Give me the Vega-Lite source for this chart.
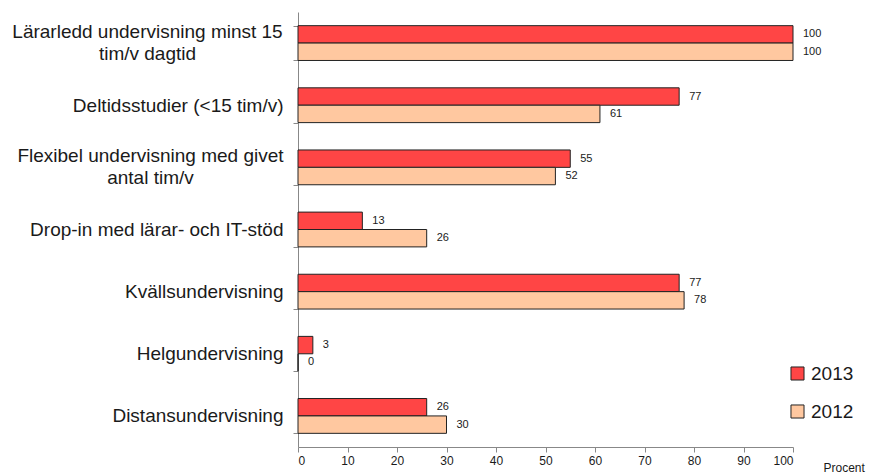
{
  "$schema": "https://vega.github.io/schema/vega-lite/v6.json",
  "autosize": "none",
  "width": 495,
  "height": 435,
  "padding": {"left": 298, "top": 12, "right": 80, "bottom": 28},
  "background": "white",
  "config": {"font": "Liberation Sans", "view": {"stroke": null}},
  "data": {"values": [
    {"cat": "Lärarledd undervisning minst 15|tim/v dagtid", "year": "2013", "value": 100},
    {"cat": "Lärarledd undervisning minst 15|tim/v dagtid", "year": "2012", "value": 100},
    {"cat": "Deltidsstudier (<15 tim/v)", "year": "2013", "value": 77},
    {"cat": "Deltidsstudier (<15 tim/v)", "year": "2012", "value": 61},
    {"cat": "Flexibel undervisning med givet|antal tim/v", "year": "2013", "value": 55},
    {"cat": "Flexibel undervisning med givet|antal tim/v", "year": "2012", "value": 52},
    {"cat": "Drop-in med lärar- och IT-stöd", "year": "2013", "value": 13},
    {"cat": "Drop-in med lärar- och IT-stöd", "year": "2012", "value": 26},
    {"cat": "Kvällsundervisning", "year": "2013", "value": 77},
    {"cat": "Kvällsundervisning", "year": "2012", "value": 78},
    {"cat": "Helgundervisning", "year": "2013", "value": 3},
    {"cat": "Helgundervisning", "year": "2012", "value": 0},
    {"cat": "Distansundervisning", "year": "2013", "value": 26},
    {"cat": "Distansundervisning", "year": "2012", "value": 30}
  ]},
  "encoding": {
    "y": {
      "field": "cat", "type": "nominal", "sort": null,
      "scale": {"paddingInner": 0.44, "paddingOuter": 0.22},
      "axis": {
        "title": null,
        "labelExpr": "indexof(datum.label, '|') >= 0 ? '' : datum.label",
        "labelFontSize": 19, "labelColor": "#1a1a1a",
        "labelPadding": 10, "tickBand": "extent", "tickSize": 5,
        "domainColor": "#888888", "tickColor": "#888888", "labelLimit": 300
      }
    },
    "x": {
      "field": "value", "type": "quantitative",
      "scale": {"domain": [0, 100], "nice": false},
      "axis": {
        "title": "Procent", "titleFontSize": 12, "titleFontWeight": "normal", "titleColor": "#1a1a1a",
        "titleAnchor": "start", "titleAlign": "left", "titleBaseline": "alphabetic", "titleX": 525, "titleY": 24,
        "values": [0,10,20,30,40,50,60,70,80,90,100], "labelOverlap": false,
        "labelFontSize": 12, "labelColor": "#1a1a1a", "grid": false,
        "domainColor": "#888888", "tickColor": "#888888", "tickSize": 5, "labelPadding": 3
      }
    }
  },
  "layer": [
    {
      "mark": {"type": "bar", "stroke": "#222222", "strokeWidth": 1},
      "encoding": {
        "yOffset": {"field": "year", "type": "nominal", "sort": ["2013", "2012"]},
        "color": {
          "field": "year", "type": "nominal",
          "scale": {"domain": ["2013", "2012"], "range": ["#FF4545", "#FFC8A0"]},
          "legend": {
            "title": null, "orient": "none", "legendX": 490, "legendY": 352,
            "symbolType": "square", "symbolSize": 170, "symbolStrokeColor": "#222222", "symbolStrokeWidth": 1,
            "labelFontSize": 19, "labelColor": "#1a1a1a", "rowPadding": 18, "labelOffset": 4
          }
        }
      }
    },
    {
      "mark": {"type": "text", "align": "left", "dx": 10, "fontSize": 11, "color": "#1a1a1a"},
      "encoding": {
        "yOffset": {"field": "year", "type": "nominal", "sort": ["2013", "2012"]},
        "text": {"field": "value", "type": "quantitative"}
      }
    },
    {
      "transform": [{"filter": "datum.year == '2013' && indexof(datum.cat, 'Lärarledd') >= 0"}],
      "mark": {"type": "text", "align": "center", "baseline": "middle", "dx": -150.5, "dy": -11, "lineBreak": "|", "lineHeight": 22, "fontSize": 19, "color": "#1a1a1a"},
      "encoding": {
        "x": {"datum": 0},
        "text": {"field": "cat", "type": "nominal"}
      }
    },
    {
      "transform": [{"filter": "datum.year == '2013' && indexof(datum.cat, 'Flexibel') >= 0"}],
      "mark": {"type": "text", "align": "center", "baseline": "middle", "dx": -147.5, "dy": -11, "lineBreak": "|", "lineHeight": 22, "fontSize": 19, "color": "#1a1a1a"},
      "encoding": {
        "x": {"datum": 0},
        "text": {"field": "cat", "type": "nominal"}
      }
    }
  ]
}
